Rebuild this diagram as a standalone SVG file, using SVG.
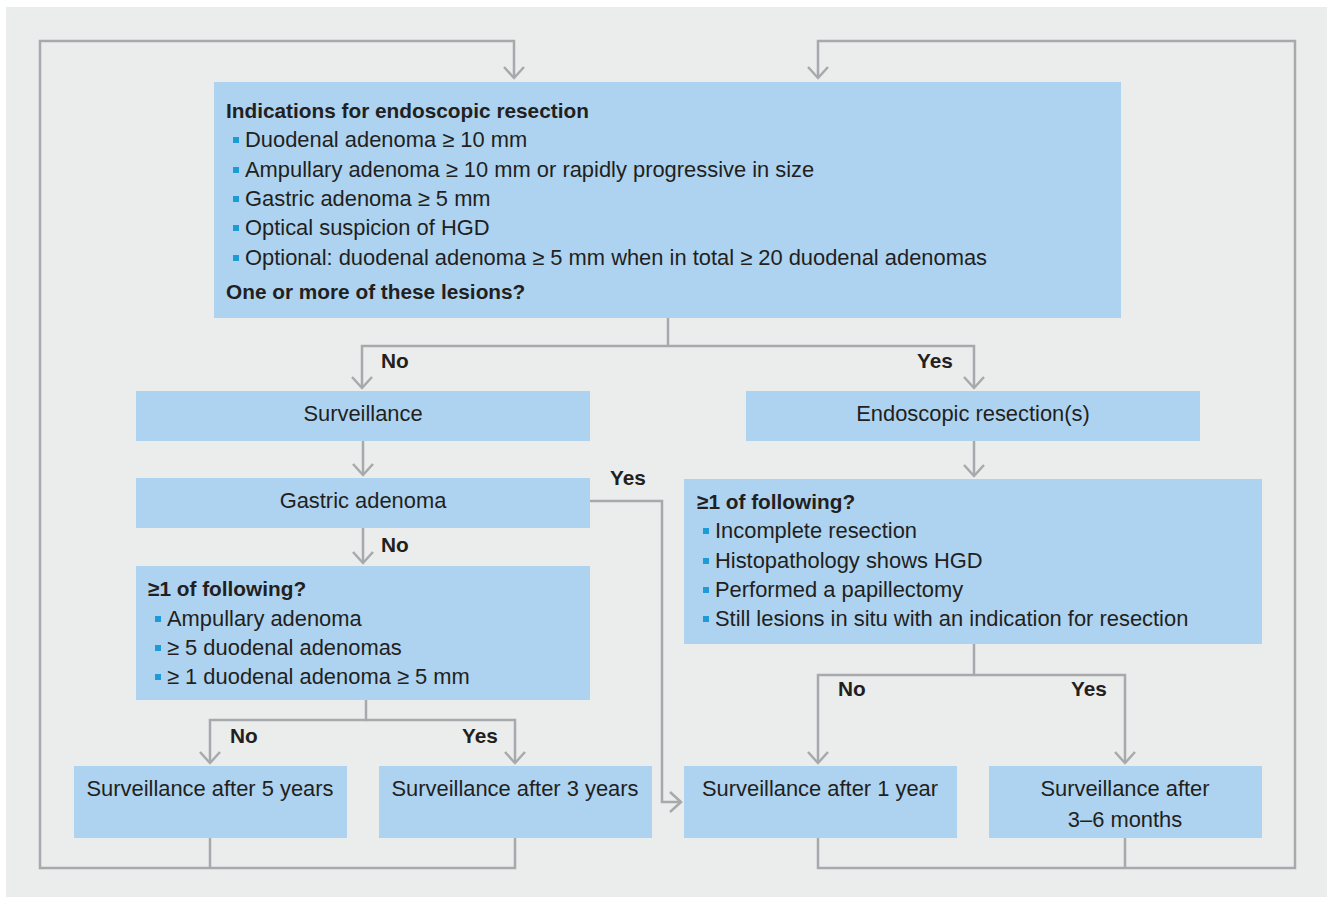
<svg xmlns="http://www.w3.org/2000/svg" width="1327" height="899" viewBox="0 0 1327 899">
<style>
.box{fill:#ADD3F0}
.t{font-family:"Liberation Sans",Arial,sans-serif;font-size:21.9px;fill:#231F20}
.b{font-family:"Liberation Sans",Arial,sans-serif;font-size:20.8px;font-weight:bold;fill:#231F20}
.c{text-anchor:middle}
.bul{fill:#1E9BD7}
.ln{fill:none;stroke:#A7A9AC;stroke-width:2.5}
.ar{marker-end:url(#ah)}
</style>
<defs>
<marker id="ah" markerWidth="30" markerHeight="30" viewBox="-15 -15 30 30" refX="0" refY="0" orient="auto" markerUnits="userSpaceOnUse">
<path d="M-11,-10 L0,0 L-11,10" fill="none" stroke="#A7A9AC" stroke-width="2.5"/>
</marker>
</defs>
<rect x="0" y="0" width="1327" height="899" fill="#FFFFFF"/>
<rect x="6" y="7" width="1321" height="890" fill="#EBECEC"/>
<g id="connectors">
<path class="ln ar" d="M515,838 V868 H40 V41 H514 V78"/>
<path class="ln" d="M210,838 V868"/>
<path class="ln ar" d="M818,838 V868 H1295 V41 H818 V78"/>
<path class="ln" d="M1125,838 V868"/>
<path class="ln" d="M668,318 V346"/>
<path class="ln ar" d="M668,346 H362 V388"/>
<path class="ln ar" d="M668,346 H974 V388"/>
<path class="ln ar" d="M363,441 V475"/>
<path class="ln ar" d="M363,528 V563"/>
<path class="ln ar" d="M590,501 H662 V802 H681"/>
<path class="ln ar" d="M366,700 V720 H210 V763"/>
<path class="ln ar" d="M366,720 H515 V763"/>
<path class="ln ar" d="M974,441 V476"/>
<path class="ln ar" d="M974,644 V675 H818 V763"/>
<path class="ln ar" d="M974,675 H1125 V763"/>
<text class="b" x="381" y="368">No</text>
<text class="b" x="917" y="368">Yes</text>
<text class="b" x="610" y="485">Yes</text>
<text class="b" x="381" y="552">No</text>
<text class="b" x="230" y="743">No</text>
<text class="b" x="462" y="743">Yes</text>
<text class="b" x="838" y="696">No</text>
<text class="b" x="1071" y="696">Yes</text>
</g>
<g id="indications">
<rect class="box" x="214" y="82" width="907" height="236"/>
<text class="b" x="226" y="118">Indications for endoscopic resection</text>
<rect class="bul" x="233" y="137" width="6" height="6"/>
<text class="t" x="245" y="147">Duodenal adenoma ≥ 10 mm</text>
<rect class="bul" x="233" y="167" width="6" height="6"/>
<text class="t" x="245" y="177">Ampullary adenoma ≥ 10 mm or rapidly progressive in size</text>
<rect class="bul" x="233" y="196" width="6" height="6"/>
<text class="t" x="245" y="206">Gastric adenoma ≥ 5 mm</text>
<rect class="bul" x="233" y="225" width="6" height="6"/>
<text class="t" x="245" y="235">Optical suspicion of HGD</text>
<rect class="bul" x="233" y="255" width="6" height="6"/>
<text class="t" x="245" y="265">Optional: duodenal adenoma ≥ 5 mm when in total ≥ 20 duodenal adenomas</text>
<text class="b" x="226" y="299">One or more of these lesions?</text>
</g>
<g id="surveillance">
<rect class="box" x="136" y="391" width="454" height="50"/>
<text class="t c" x="363" y="421">Surveillance</text>
</g>
<g id="resection">
<rect class="box" x="746" y="391" width="454" height="50"/>
<text class="t c" x="973" y="421">Endoscopic resection(s)</text>
</g>
<g id="gastric">
<rect class="box" x="136" y="478" width="454" height="50"/>
<text class="t c" x="363" y="508">Gastric adenoma</text>
</g>
<g id="following-left">
<rect class="box" x="136" y="566" width="454" height="134"/>
<text class="b" x="148" y="596">≥1 of following?</text>
<rect class="bul" x="155" y="616" width="6" height="6"/>
<text class="t" x="167" y="626">Ampullary adenoma</text>
<rect class="bul" x="155" y="645" width="6" height="6"/>
<text class="t" x="167" y="655">≥ 5 duodenal adenomas</text>
<rect class="bul" x="155" y="674" width="6" height="6"/>
<text class="t" x="167" y="684">≥ 1 duodenal adenoma ≥ 5 mm</text>
</g>
<g id="following-right">
<rect class="box" x="684" y="479" width="578" height="165"/>
<text class="b" x="697" y="509">≥1 of following?</text>
<rect class="bul" x="703" y="528" width="6" height="6"/>
<text class="t" x="715" y="538">Incomplete resection</text>
<rect class="bul" x="703" y="558" width="6" height="6"/>
<text class="t" x="715" y="568">Histopathology shows HGD</text>
<rect class="bul" x="703" y="587" width="6" height="6"/>
<text class="t" x="715" y="597">Performed a papillectomy</text>
<rect class="bul" x="703" y="616" width="6" height="6"/>
<text class="t" x="715" y="626">Still lesions in situ with an indication for resection</text>
</g>
<g id="after5">
<rect class="box" x="74" y="766" width="273" height="72"/>
<text class="t c" x="210" y="796">Surveillance after 5 years</text>
</g>
<g id="after3">
<rect class="box" x="379" y="766" width="273" height="72"/>
<text class="t c" x="515" y="796">Surveillance after 3 years</text>
</g>
<g id="after1">
<rect class="box" x="684" y="766" width="273" height="72"/>
<text class="t c" x="820" y="796">Surveillance after 1 year</text>
</g>
<g id="after36">
<rect class="box" x="989" y="766" width="273" height="72"/>
<text class="t c" x="1125" y="796">Surveillance after</text>
<text class="t c" x="1125" y="827">3–6 months</text>
</g>
</svg>
